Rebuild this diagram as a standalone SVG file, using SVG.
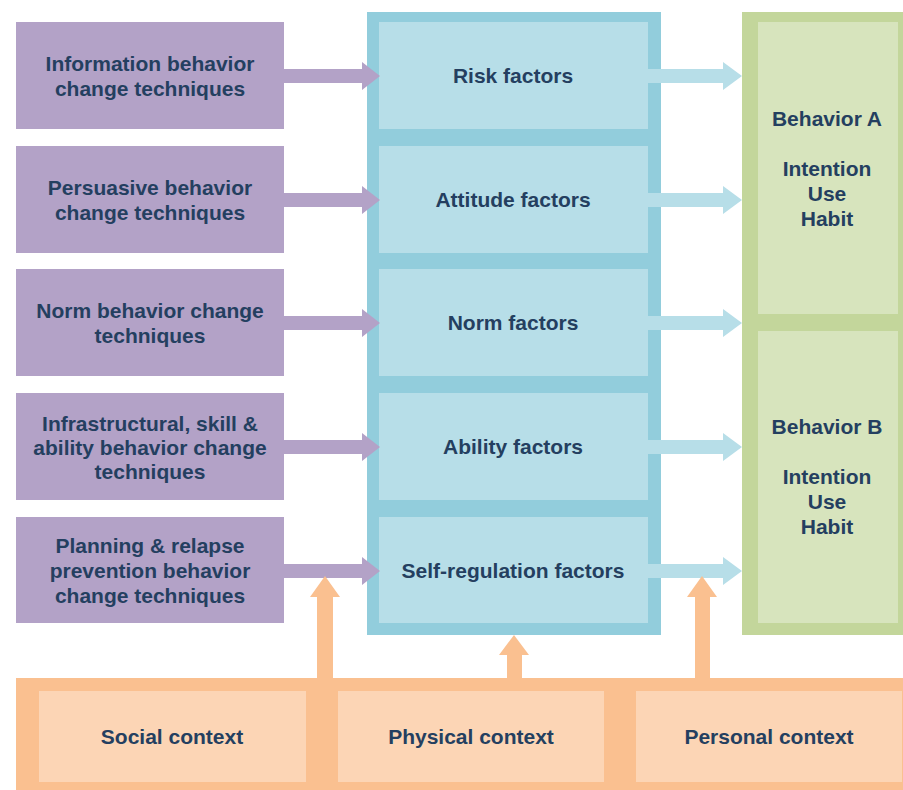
<svg xmlns="http://www.w3.org/2000/svg" width="903" height="790" viewBox="0 0 903 790">
<style>
.t{font-family:"Liberation Sans",Arial,sans-serif;font-weight:bold;font-size:21px;fill:#243F60;text-anchor:middle}
.pur{fill:#B3A2C7}
.bo{fill:#92CDDC}
.bi{fill:#B7DEE8}
.go{fill:#C3D69B}
.gi{fill:#D7E4BD}
.oo{fill:#FAC090}
.oi{fill:#FCD5B5}
</style>
<rect width="903" height="790" fill="#ffffff"/>
<g id="mediators-frame"><rect class="bo" x="367" y="12" width="294" height="623"/></g>
<g id="behaviors-frame"><rect class="go" x="742" y="12" width="161" height="623"/></g>
<g id="context-frame"><rect class="oo" x="16" y="678" width="887" height="112"/></g>

<g id="bct-information"><rect class="pur" x="16" y="22" width="268" height="107"/>
<text class="t" x="150" y="71">Information behavior</text><text class="t" x="150" y="96">change techniques</text></g>
<g id="bct-persuasive"><rect class="pur" x="16" y="146" width="268" height="107"/>
<text class="t" x="150" y="195">Persuasive behavior</text><text class="t" x="150" y="220">change techniques</text></g>
<g id="bct-norm"><rect class="pur" x="16" y="269" width="268" height="107"/>
<text class="t" x="150" y="318">Norm behavior change</text><text class="t" x="150" y="343">techniques</text></g>
<g id="bct-ability"><rect class="pur" x="16" y="393" width="268" height="107"/>
<text class="t" x="150" y="431">Infrastructural, skill &amp;</text><text class="t" x="150" y="455">ability behavior change</text><text class="t" x="150" y="479">techniques</text></g>
<g id="bct-planning"><rect class="pur" x="16" y="517" width="268" height="106"/>
<text class="t" x="150" y="553">Planning &amp; relapse</text><text class="t" x="150" y="578">prevention behavior</text><text class="t" x="150" y="603">change techniques</text></g>

<g id="risk-factors"><rect class="bi" x="379" y="22" width="269" height="107"/><text class="t" x="513" y="83">Risk factors</text></g>
<g id="attitude-factors"><rect class="bi" x="379" y="146" width="269" height="107"/><text class="t" x="513" y="207">Attitude factors</text></g>
<g id="norm-factors"><rect class="bi" x="379" y="269" width="269" height="107"/><text class="t" x="513" y="330">Norm factors</text></g>
<g id="ability-factors"><rect class="bi" x="379" y="393" width="269" height="107"/><text class="t" x="513" y="454">Ability factors</text></g>
<g id="self-regulation-factors"><rect class="bi" x="379" y="517" width="269" height="106"/><text class="t" x="513" y="578">Self-regulation factors</text></g>

<g id="behavior-a"><rect class="gi" x="758" y="22" width="140" height="292"/>
<text class="t" x="827" y="126">Behavior A</text><text class="t" x="827" y="176">Intention</text><text class="t" x="827" y="201">Use</text><text class="t" x="827" y="226">Habit</text></g>
<g id="behavior-b"><rect class="gi" x="758" y="331" width="140" height="292"/>
<text class="t" x="827" y="434">Behavior B</text><text class="t" x="827" y="484">Intention</text><text class="t" x="827" y="509">Use</text><text class="t" x="827" y="534">Habit</text></g>

<g id="social-context"><rect class="oi" x="39" y="691" width="267" height="91"/><text class="t" x="172" y="744">Social context</text></g>
<g id="physical-context"><rect class="oi" x="338" y="691" width="266" height="91"/><text class="t" x="471" y="744">Physical context</text></g>
<g id="personal-context"><rect class="oi" x="636" y="691" width="266" height="91"/><text class="t" x="769" y="744">Personal context</text></g>

<defs>
<path id="arrR" d="M0,-7 H78 V-14 L96,0 L78,14 V7 H0 Z"/>
<path id="arrRb" d="M0,-7 H75 V-14 L94,0 L75,14 V7 H0 Z"/>
</defs>
<g id="connectors">
<use href="#arrR" class="pur" x="284" y="76"/>
<use href="#arrR" class="pur" x="284" y="200"/>
<use href="#arrR" class="pur" x="284" y="323"/>
<use href="#arrR" class="pur" x="284" y="447"/>
<use href="#arrR" class="pur" x="284" y="571"/>
<use href="#arrRb" class="bi" x="648" y="76"/>
<use href="#arrRb" class="bi" x="648" y="200"/>
<use href="#arrRb" class="bi" x="648" y="323"/>
<use href="#arrRb" class="bi" x="648" y="447"/>
<use href="#arrRb" class="bi" x="648" y="571"/>
<path class="oo" d="M317,678 V597 H310 L325,576 L340,597 H333 V678 Z"/>
<path class="oo" d="M507,678 V655 H499 L514,635 L529,655 H522 V678 Z"/>
<path class="oo" d="M695,678 V597 H687 L702,576 L717,597 H710 V678 Z"/>
</g>
</svg>
